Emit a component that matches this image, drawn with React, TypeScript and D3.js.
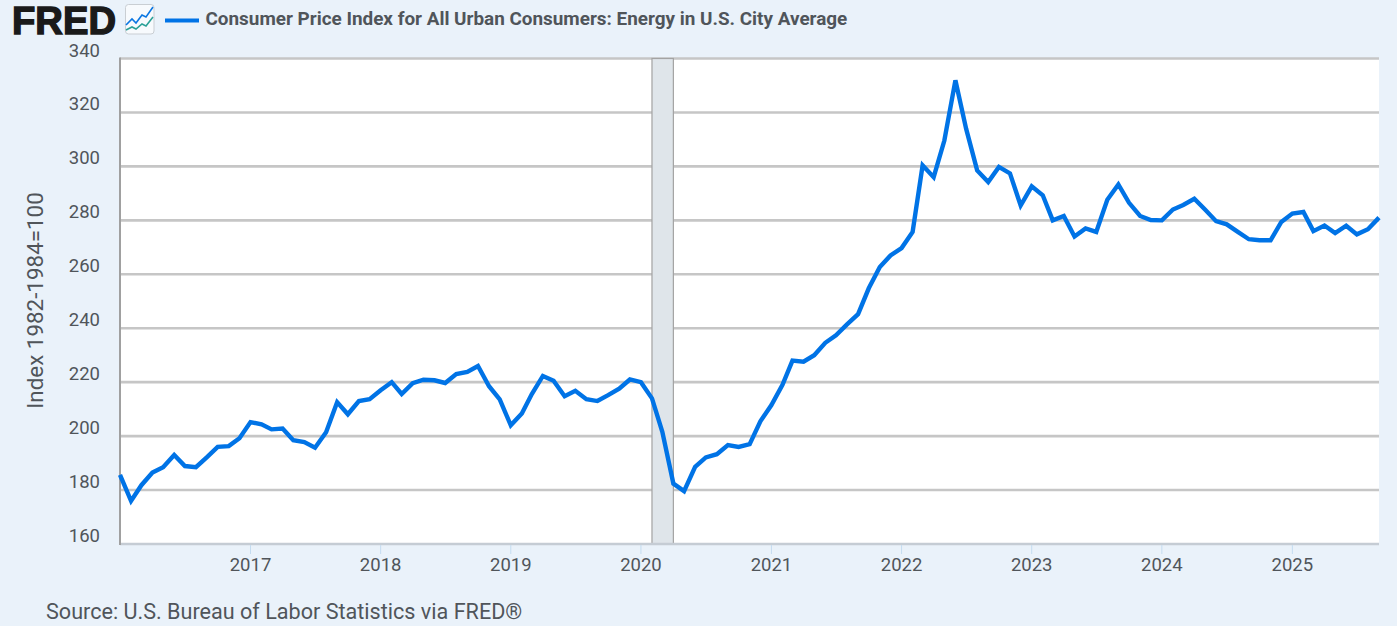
import React from "react";
import * as d3 from "d3";

const title = "Consumer Price Index for All Urban Consumers: Energy in U.S. City Average";
const yLabel = "Index 1982-1984=100";
const source = "Source: U.S. Bureau of Labor Statistics via FRED®";
const startMonth = "2016-01-01";
const endMonth = "2025-09-01";
const yTicks = [160, 180, 200, 220, 240, 260, 280, 300, 320, 340];
const xTickYears = [2017, 2018, 2019, 2020, 2021, 2022, 2023, 2024, 2025];
const recession = ["2020-02-01", "2020-04-01"];
const values2016 = [185.6, 176, 181.8, 186.5, 188.5, 193, 188.9, 188.5, 192.2, 196, 196.3, 199.2];
const values2017 = [205.2, 204.4, 202.5, 202.8, 198.5, 197.8, 195.7, 201.4, 212.6, 208.1, 213, 213.7];
const values2018 = [217, 220, 215.6, 219.6, 220.9, 220.7, 219.7, 223, 223.8, 226, 218.5, 213.6];
const values2019 = [204, 208.4, 215.6, 222.3, 220.5, 214.8, 216.8, 213.7, 213, 215.2, 217.6, 221];
const values2020 = [220, 214, 201.6, 182.4, 179.6, 188.6, 192.1, 193.3, 196.7, 196, 197, 205.5];
const values2021 = [211.5, 219, 228, 227.6, 230, 234.6, 237.4, 241.4, 245.2, 254.8, 262.7, 267];
const values2022 = [269.7, 275.7, 300.4, 296, 309.6, 331.9, 314, 298.5, 294.2, 299.8, 297.4, 285.5];
const values2023 = [292.6, 289.3, 280, 281.6, 274, 277, 275.7, 287.6, 293.3, 286.5, 281.6, 280.1];
const values2024 = [280, 284, 285.7, 288, 284, 279.7, 278.5, 275.7, 273, 272.6, 272.6, 279.4];
const values2025 = [282.5, 283.1, 276, 278.1, 275.3, 278, 274.8, 276.7, 281];

const allValues = [
  ...values2016, ...values2017, ...values2018, ...values2019, ...values2020,
  ...values2021, ...values2022, ...values2023, ...values2024, ...values2025,
];

const W = 1397, H = 626;
const plot = { left: 120, right: 1379, top: 58.5, bottom: 544 };
const BG = "#eaf2fa";
const GRID = "#c6c6c6";
const TEXT = "#50555a";
const BLUE = "#0073e6";
const FONT = "Roboto, sans-serif";

const utc = (s: string) => new Date(s + "T00:00:00Z");

export default function App() {
  const x = d3.scaleUtc().domain([utc(startMonth), utc(endMonth)]).range([plot.left, plot.right]);
  const y = d3.scaleLinear().domain([160, 340]).range([plot.bottom, plot.top]);
  const months = d3.utcMonth.range(utc(startMonth), d3.utcMonth.offset(utc(endMonth), 1));
  const line = d3.line<number>().x((_, i) => x(months[i])).y((d) => y(d));
  const r0 = x(utc(recession[0]));
  const r1 = x(utc(recession[1]));

  return (
    <svg
      width={W}
      height={H}
      viewBox={`0 0 ${W} ${H}`}
      style={{ position: "absolute", left: 0, top: 0, display: "block" }}
    >
      <rect width={W} height={H} fill={BG} />
      {/* Logo */}
      <text
        x={12}
        y={33.5}
        fontFamily="'Liberation Sans', Arial, sans-serif"
        fontWeight={700}
        fontSize={38}
        fill="#1a1a1a"
        stroke="#1a1a1a"
        strokeWidth={1.4}
        textLength={104}
        lengthAdjust="spacingAndGlyphs"
      >
        FRED
      </text>
      <g>
        <rect x={125.5} y={4.5} width={28.5} height={29.5} rx={3} fill="#f7fafd" stroke="#c9ced3" />
        <polyline
          points="126,25 132,19 136,23 142,15 146,17 153,7"
          fill="none"
          stroke="#0a76e2"
          strokeWidth={1.6}
        />
        <polyline
          points="126,30 132,27 136,29 142,24 146,26 153,17"
          fill="none"
          stroke="#2aa198"
          strokeWidth={1.6}
        />
      </g>
      {/* Legend */}
      <line x1={165} x2={199} y1={20.5} y2={20.5} stroke={BLUE} strokeWidth={4} />
      <text x={205.5} y={25} fontFamily={FONT} fontWeight={700} fontSize={18.9} fill={TEXT}>
        {title}
      </text>

      {/* Plot */}
      <rect
        x={plot.left}
        y={plot.top}
        width={plot.right - plot.left}
        height={plot.bottom - plot.top}
        fill="#ffffff"
      />
      {yTicks.filter((t) => t !== 160).map((t) => (
        <line key={t} x1={plot.left} x2={plot.right} y1={y(t)} y2={y(t)} stroke={GRID} strokeWidth={2.6} />
      ))}
      <rect
        x={r0}
        y={plot.top}
        width={r1 - r0}
        height={plot.bottom - plot.top}
        fill="#dfe5ea"
        stroke="#a3a3a3"
        strokeWidth={1.2}
      />
      <line x1={plot.left} x2={plot.right} y1={plot.bottom} y2={plot.bottom} stroke="#c5ccd4" strokeWidth={2.6} />
      <line x1={plot.left} x2={plot.left} y1={plot.top - 1} y2={plot.bottom + 1} stroke="#a0a0a0" strokeWidth={2} />
      {xTickYears.map((yr) => {
        const tx = x(utc(`${yr}-01-01`));
        return (
          <g key={yr}>
            <line x1={tx} x2={tx} y1={plot.bottom + 1} y2={plot.bottom + 10} stroke="#c5dcf0" strokeWidth={1} />
            <text x={tx} y={571} textAnchor="middle" fontFamily={FONT} fontSize={18.5} fill={TEXT}>
              {yr}
            </text>
          </g>
        );
      })}
      {yTicks.map((t) => (
        <text key={t} x={100} y={y(t) - 2} textAnchor="end" fontFamily={FONT} fontSize={18.5} fill={TEXT}>
          {t}
        </text>
      ))}
      <text
        transform="translate(43,300.5) rotate(-90)"
        textAnchor="middle"
        fontFamily={FONT}
        fontSize={22.4}
        fill={TEXT}
      >
        {yLabel}
      </text>
      <path
        d={line(allValues) ?? ""}
        fill="none"
        stroke={BLUE}
        strokeWidth={4.4}
        strokeLinejoin="miter"
        strokeMiterlimit={4}
      />
      <text x={46} y={618.5} fontFamily={FONT} fontSize={21.6} fill={TEXT}>
        {source}
      </text>
    </svg>
  );
}
